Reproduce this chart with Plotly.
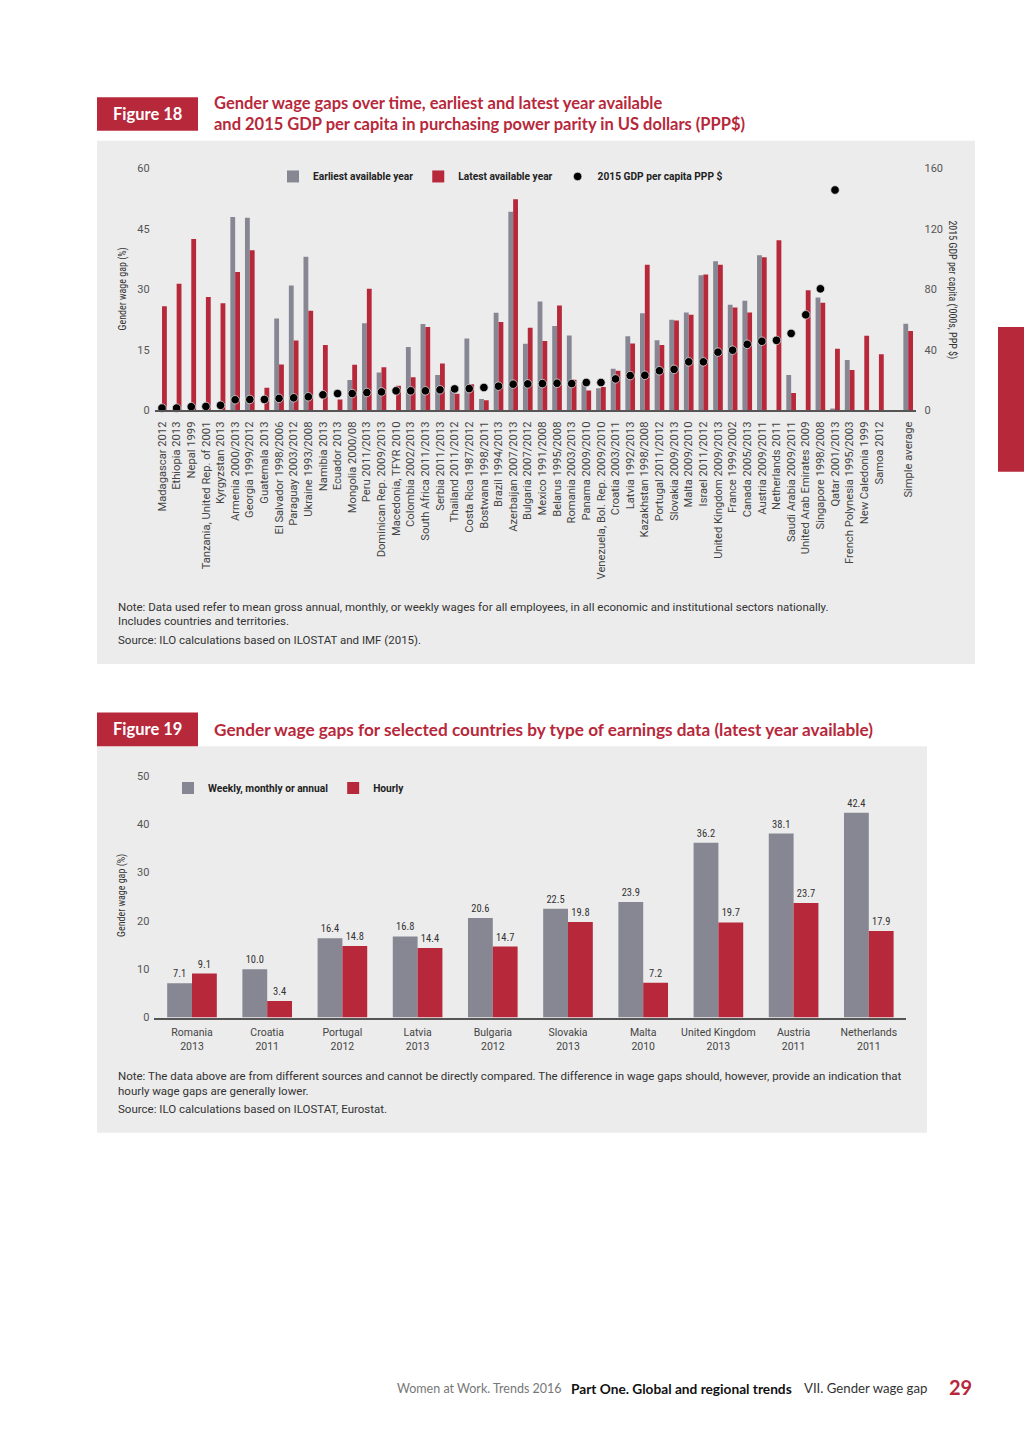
import plotly.graph_objects as go

# ---------------- Figure 18 data ----------------
countries = [
    "Madagascar 2012", "Ethiopia 2013", "Nepal 1999", "Tanzania, United Rep. of 2001",
    "Kyrgyzstan 2013", "Armenia 2000/2013", "Georgia 1999/2012", "Guatemala 2013",
    "El Salvador 1998/2006", "Paraguay 2003/2012", "Ukraine 1993/2008", "Namibia 2013",
    "Ecuador 2013", "Mongolia 2000/08", "Peru 2011/2013", "Dominican Rep. 2009/2013",
    "Macedonia, TFYR 2010", "Colombia 2002/2013", "South Africa 2011/2013", "Serbia 2011/2013",
    "Thailand 2011/2012", "Costa Rica 1987/2012", "Bostwana 1998/2011", "Brazil 1994/2013",
    "Azerbaijan 2007/2013", "Bulgaria 2007/2012", "Mexico 1991/2008", "Belarus 1995/2008",
    "Romania 2003/2013", "Panama 2009/2010", "Venezuela, Bol. Rep. 2009/2010", "Croatia 2003/2011",
    "Latvia 1992/2013", "Kazakhstan 1998/2008", "Portugal 2011/2012", "Slovakia 2009/2013",
    "Malta 2009/2010", "Israel 2011/2012", "United Kingdom 2009/2013", "France 1999/2002",
    "Canada 2005/2013", "Austria 2009/2011", "Netherlands 2011", "Saudi Arabia 2009/2011",
    "United Arab Emirates 2009", "Singapore 1998/2008", "Qatar 2001/2013",
    "French Polynesia 1995/2003", "New Caledonia 1999", "Samoa 2012", " ", "Simple average",
]
earliest = [
    None, None, None, None, None, 48.0, 47.8, None, 22.8, 31.0, 38.1, None,
    None, 7.5, 21.6, 9.4, None, 15.7, 21.4, 8.8, 5.2, 17.8, 2.8, 24.2,
    49.3, 16.5, 27.0, 20.9, 18.6, 6.9, 5.5, 10.3, 18.4, 24.1, 17.4, 22.5,
    24.3, 33.5, 37.0, 26.2, 27.2, 38.5, None, 8.8, None, 28.0, 0.4,
    12.5, None, None, None, 21.5,
]
latest = [
    25.8, 31.4, 42.5, 28.1, 26.6, 34.3, 39.7, 5.6, 11.4, 17.3, 24.7, 16.2,
    2.7, 11.3, 30.2, 10.7, 6.1, 8.2, 20.7, 11.6, 4.1, 6.5, 2.5, 21.9,
    52.4, 20.5, 17.2, 26.0, 7.6, 4.9, 5.8, 9.8, 16.6, 36.1, 16.2, 22.3,
    23.7, 33.7, 36.1, 25.5, 24.3, 38.0, 42.2, 4.3, 29.8, 26.7, 15.3,
    10.0, 18.5, 13.9, None, 19.7,
]
gdp = [
    1.5, 1.5, 2.4, 2.6, 3.3, 7.0, 7.2, 7.2, 7.9, 8.3, 9.0, 10.3,
    11.1, 11.1, 11.8, 12.2, 12.9, 12.9, 12.9, 13.6, 14.2, 14.4, 15.1, 16.0,
    17.3, 17.5, 17.7, 17.9, 17.7, 18.4, 18.4, 20.8, 23.0, 23.2, 26.2, 27.1,
    32.1, 32.1, 38.5, 39.8, 43.7, 45.7, 46.3, 50.9, 63.2, 80.4, 145.8,
    None, None, None, None, None,
]
left_ticks = [0, 15, 30, 45, 60]
right_ticks = [0, 40, 80, 120, 160]

# ---------------- Figure 19 data ----------------
countries19 = [
    "Romania<br>2013", "Croatia<br>2011", "Portugal<br>2012", "Latvia<br>2013",
    "Bulgaria<br>2012", "Slovakia<br>2013", "Malta<br>2010", "United Kingdom<br>2013",
    "Austria<br>2011", "Netherlands<br>2011",
]
weekly = [7.1, 10.0, 16.4, 16.8, 20.6, 22.5, 23.9, 36.2, 38.1, 42.4]
hourly = [9.1, 3.4, 14.8, 14.4, 14.7, 19.8, 7.2, 19.7, 23.7, 17.9]
ticks19 = [0, 10, 20, 30, 40, 50]

GREY = "#878794"
RED = "#b7283b"
PANEL = "#ececec"
W, H = 1024, 1449


def px(x):
    return x / W


def py(y):
    return 1 - y / H


fig = go.Figure()

fig.add_trace(go.Bar(x=countries, y=earliest, name="Earliest available year",
                     marker=dict(color=GREY, line=dict(width=0)), xaxis="x", yaxis="y",
                     legend="legend"))
fig.add_trace(go.Bar(x=countries, y=latest, name="Latest available year",
                     marker=dict(color=RED, line=dict(width=0)), xaxis="x", yaxis="y",
                     legend="legend"))
fig.add_trace(go.Scatter(x=countries, y=gdp, name="2015 GDP per capita PPP $", mode="markers",
                         marker=dict(color="black", size=8.5, line=dict(color="#dddddd", width=0.8)),
                         xaxis="x", yaxis="y2", legend="legend", cliponaxis=False))

lab_font = dict(family="Liberation Sans Narrow, Roboto Condensed, sans-serif", size=10.5, color="#333")
fig.add_trace(go.Bar(x=countries19, y=weekly, name="Weekly, monthly or annual",
                     marker=dict(color=GREY, line=dict(width=0)), xaxis="x2", yaxis="y3",
                     text=[f"{v:.1f}" for v in weekly], textposition="outside",
                     textfont=lab_font, cliponaxis=False, legend="legend2"))
fig.add_trace(go.Bar(x=countries19, y=hourly, name="Hourly",
                     marker=dict(color=RED, line=dict(width=0)), xaxis="x2", yaxis="y3",
                     text=[f"{v:.1f}" for v in hourly], textposition="outside",
                     textfont=lab_font, cliponaxis=False, legend="legend2"))

tickfont_y = dict(family="Roboto, sans-serif", size=11, color="#555")

shapes = [
    # grey panels
    dict(type="rect", xref="paper", yref="paper", x0=px(97), x1=px(975), y0=py(664), y1=py(136),
         fillcolor=PANEL, line=dict(width=0), layer="below"),
    dict(type="rect", xref="paper", yref="paper", x0=px(97), x1=px(927), y0=py(1137), y1=py(747),
         fillcolor=PANEL, line=dict(width=0), layer="below"),
    # figure label boxes
    dict(type="rect", xref="paper", yref="paper", x0=px(97), x1=px(198), y0=py(126), y1=py(92),
         fillcolor=RED, line=dict(width=0), layer="below"),
    dict(type="rect", xref="paper", yref="paper", x0=px(97), x1=px(198), y0=py(747), y1=py(713),
         fillcolor=RED, line=dict(width=0), layer="below"),
    # right edge tab
    dict(type="rect", xref="paper", yref="paper", x0=px(998), x1=1, y0=py(470), y1=py(324),
         fillcolor=RED, line=dict(width=0), layer="below"),
]

title_font = dict(family="Lato, sans-serif", size=16.5, color=RED, weight="bold")
note_font = dict(family="Roboto, sans-serif", size=11.5, color="#333")
axt_font = dict(family="Liberation Sans Narrow, Roboto Condensed, sans-serif", size=10, color="#333")


def ann(x, y, text, font, xanchor="left", yanchor="middle", textangle=0, align="left"):
    return dict(x=px(x), y=py(y), xref="paper", yref="paper", text=text, showarrow=False,
                xanchor=xanchor, yanchor=yanchor, font=font, textangle=textangle, align=align)


annotations = [
    ann(147, 109, "Figure 18", dict(family="Lato, sans-serif", size=16.5, color="white", weight="bold"),
        xanchor="center", align="center"),
    ann(212, 108.5, "Gender wage gaps over time, earliest and latest year available<br>"
        "and 2015 GDP per capita in purchasing power parity in US dollars (PPP$)", title_font),
    ann(123, 286, "Gender wage gap (%)", axt_font, xanchor="center", textangle=-90, align="center"),
    ann(953, 286, "2015 GDP per capita ('000s, PPP $)", axt_font, xanchor="center", textangle=90,
        align="center"),
    ann(116, 606, "Note: Data used refer to mean gross annual, monthly, or weekly wages for all employees, in all economic and institutional sectors nationally.", note_font),
    ann(116, 621, "Includes countries and territories.", note_font),
    ann(116, 640, "Source: ILO calculations based on ILOSTAT and IMF (2015).", note_font),

    ann(147, 730, "Figure 19", dict(family="Lato, sans-serif", size=16.5, color="white", weight="bold"),
        xanchor="center", align="center"),
    ann(212, 730, "Gender wage gaps for selected countries by type of earnings data (latest year available)",
        dict(family="Lato, sans-serif", size=17.2, color=RED, weight="bold")),
    ann(122, 898, "Gender wage gap (%)", axt_font, xanchor="center", textangle=-90, align="center"),
    ann(116, 1080, "Note: The data above are from different sources and cannot be directly compared. The difference in wage gaps should, however, provide an indication that", note_font),
    ann(116, 1095, "hourly wage gaps are generally lower.", note_font),
    ann(116, 1113, "Source: ILO calculations based on ILOSTAT, Eurostat.", note_font),

    # footer
    ann(395, 1395, "Women at Work. Trends 2016", dict(family="Lato, sans-serif", size=12.5, color="#777")),
    ann(569, 1395, "Part One. Global and regional trends",
        dict(family="Lato, sans-serif", size=13.7, color="#111", weight="bold")),
    ann(802, 1395, "VII. Gender wage gap", dict(family="Lato, sans-serif", size=13.2, color="#333")),
    ann(947, 1393, "29", dict(family="Lato, sans-serif", size=20, color=RED, weight="bold")),
]

legend_font = dict(family="Roboto, sans-serif", size=10.2, color="#222", weight="bold")

fig.update_layout(
    width=W, height=H, autosize=False,
    margin=dict(l=0, r=0, t=0, b=0, pad=0),
    paper_bgcolor="white", plot_bgcolor="rgba(0,0,0,0)",
    barmode="group", bargap=0.34, bargroupgap=0,
    showlegend=True,
    legend=dict(orientation="h", x=px(273), y=py(172), xanchor="left", yanchor="middle",
                font=legend_font, bgcolor="rgba(0,0,0,0)", itemwidth=30, traceorder="normal"),
    legend2=dict(orientation="h", x=px(168), y=py(789), xanchor="left", yanchor="middle",
                 font=legend_font, bgcolor="rgba(0,0,0,0)", itemwidth=30, traceorder="normal"),
    xaxis=dict(domain=[px(154.7), px(915.5)], anchor="y", type="category",
               categoryorder="array", categoryarray=countries,
               range=[-0.5, len(countries) - 0.5], autorange=False,
               tickangle=-90, tickfont=dict(family="Roboto, sans-serif", size=11.2, color="#444"),
               showline=True, linecolor="#555", linewidth=1.5, showgrid=False, zeroline=False,
               ticks="", ticklabelstandoff=5, fixedrange=True),
    yaxis=dict(domain=[py(408), py(164)], anchor="x", range=[0, 60], tickvals=left_ticks,
               showgrid=False, zeroline=False, showline=False, ticks="",
               tickfont=tickfont_y, ticklabelstandoff=4),
    yaxis2=dict(overlaying="y", side="right", anchor="x", range=[0, 160], tickvals=right_ticks,
                showgrid=False, zeroline=False, showline=False, ticks="",
                tickfont=tickfont_y, ticklabelstandoff=8),
    xaxis2=dict(domain=[px(154.4), px(906.4)], anchor="y3", type="category",
                tickfont=dict(family="Roboto, sans-serif", size=10.5, color="#444"),
                showline=True, linecolor="#555", linewidth=1.5, showgrid=False, zeroline=False,
                ticks="", ticklabelstandoff=4, tickangle=0),
    yaxis3=dict(domain=[py(1020.7), py(777)], anchor="x2", range=[0, 50], tickvals=ticks19,
                showgrid=False, zeroline=False, showline=False, ticks="",
                tickfont=tickfont_y, ticklabelstandoff=4),
    shapes=shapes,
    annotations=annotations,
)

fig.write_html("out.html", config={"displayModeBar": False},
               post_script="document.body.style.margin='0';document.body.style.overflow='hidden';")
